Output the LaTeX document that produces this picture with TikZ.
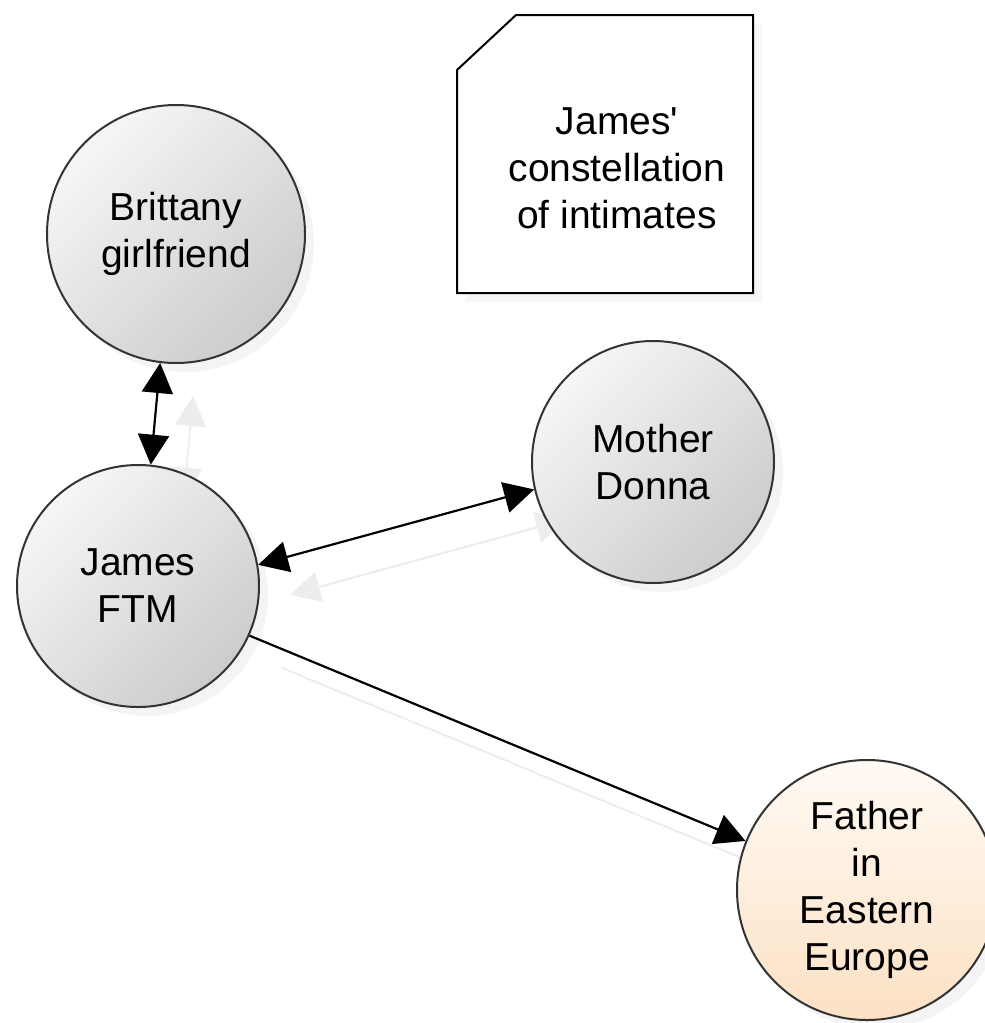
\documentclass[tikz,border=0pt]{standalone}
\usepackage{fontspec}
\setmainfont{Liberation Sans}
\usetikzlibrary{arrows.meta, backgrounds, calc, positioning, shadows}

\definecolor{pale}{RGB}{246,246,246}
\definecolor{dim}{RGB}{204,204,204}
\definecolor{peachlt}{RGB}{255,250,244}
\definecolor{peachdk}{RGB}{252,225,196}

\tikzset{
	person/.style={circle, draw=black!80, line width=2pt, inner sep=0pt, align=center,
		top color=pale, bottom color=dim, shading angle=45,
		font=\fontsize{39}{47}\selectfont,
		drop shadow={shadow xshift=9pt, shadow yshift=-9pt, opacity=.09}},
	tie/.style={line width=2.2pt, black},
	ghost/.style={line width=2pt, black!7},
	notebox/.style={draw=black, line width=2pt, fill=white,
		drop shadow={shadow xshift=9pt, shadow yshift=-9pt, opacity=.07}}
}

\begin{document}
\begin{tikzpicture}[x=1pt, y=-1pt, >={Triangle[length=30pt,width=31pt]}]
	\useasboundingbox (0,0) rectangle (985,1023);
	\draw[notebox] (457,70) -- (516,15) -- (753,15) -- (753,293) -- (457,293) -- cycle;
	\node[font=\fontsize{39}{47}\selectfont, align=center] (N) at (617,168) {James\textquotesingle\\constellation\\of intimates};
	\node[person, minimum size=258pt] (Br) at (176,234) {Brittany\\girlfriend};
	\node[person, minimum size=242pt] (Ja) at (138,586) {James\\FTM};
	\node[person, minimum size=242pt] (Mo) at (653,462) {Mother\\Donna};
	\node[person, minimum size=260pt, top color=peachlt, bottom color=peachdk] (Fa) at (867,890) {Father\\in\\Eastern\\Europe};
	\begin{pgfonlayer}{background}
		\draw[ghost, <->] ([shift={(33pt,-33pt)}]Br.263) -- ([shift={(33pt,-33pt)}]Ja.84);
		\draw[ghost, <->] ([shift={(32pt,-30pt)}]Ja.10) -- ([shift={(32pt,-30pt)}]Mo.193);
		\draw[ghost, ->] ([shift={(32pt,-32pt)}]Ja.336) -- ([shift={(32pt,-32pt)}]Fa.158);
	\end{pgfonlayer}
	\draw[tie, <->] (Br.263) -- (Ja.84);
	\draw[tie, <->] (Ja.10) -- (Mo.193);
	\draw[tie, ->] (Ja.336) -- (Fa.158);
\end{tikzpicture}
\end{document}
